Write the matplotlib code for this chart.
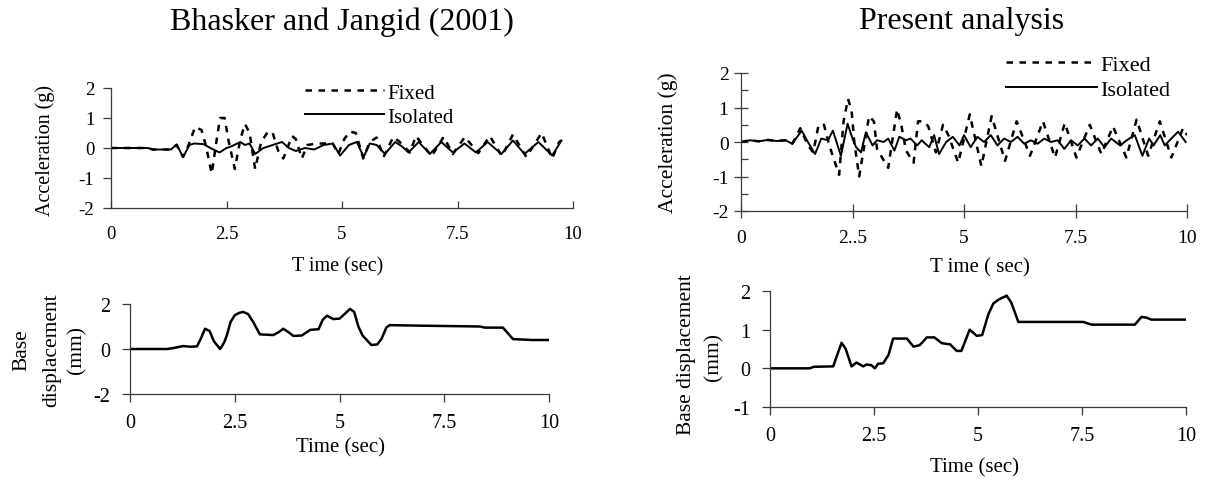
import matplotlib
matplotlib.use("Agg")
import matplotlib.pyplot as plt
from matplotlib.ticker import MultipleLocator

plt.rcParams['font.family'] = ['Liberation Serif', 'DejaVu Serif']

# ---- data: Bhasker and Jangid (2001), top acceleration response ----
bj_fixed_t = [0, 0.8, 0.9, 1.3, 1.42, 1.56, 1.68, 1.82, 1.96, 2.05, 2.18, 2.28, 2.36, 2.46,
              2.55, 2.68, 2.8, 2.9, 3.0, 3.12, 3.25, 3.4, 3.5, 3.62, 3.73, 3.92, 4.0, 4.13,
              4.25, 4.45, 4.8, 4.92, 5.05, 5.17, 5.3, 5.46, 5.6, 5.75, 5.9, 6.11, 6.25, 6.47,
              6.6, 6.75, 6.94, 7.2, 7.4, 7.66, 7.95, 8.2, 8.46, 8.7, 8.99, 9.32, 9.55, 9.7, 9.75]
bj_fixed_a = [0, 0, -0.05, -0.05, 0.1, -0.3, 0.1, 0.7, 0.6, 0.1, -0.85, 0.2, 1.0, 1.0,
              0.2, -0.7, 0.3, 0.8, 0.5, -0.7, 0.2, 0.55, 0.5, -0.1, -0.35, 0.4, 0.3, -0.35,
              0.1, 0.15, 0.15, -0.2, 0.3, 0.55, 0.5, -0.35, 0.2, 0.35, -0.3, 0.37, 0.2, -0.15,
              0.4, 0.1, -0.27, 0.37, -0.2, 0.37, -0.17, 0.4, -0.27, 0.45, -0.3, 0.5, -0.35, 0.2, 0.25]

bj_iso_t = [0, 0.8, 0.9, 1.3, 1.42, 1.56, 1.7, 1.8, 2.0, 2.15, 2.35, 2.5, 2.6, 2.8, 2.9, 3.0,
            3.12, 3.3, 3.5, 3.7, 3.85, 4.0, 4.2, 4.4, 4.6, 4.8, 4.96, 5.15, 5.32, 5.47, 5.6,
            5.75, 5.93, 6.15, 6.3, 6.44, 6.66, 6.9, 7.15, 7.4, 7.65, 7.9, 8.15, 8.45, 8.7,
            8.95, 9.25, 9.55, 9.75]
bj_iso_a = [0, 0, -0.05, -0.05, 0.12, -0.3, 0.1, 0.15, 0.13, 0.0, -0.15, 0.0, 0.05, 0.2, 0.1, 0.15,
            -0.2, 0.0, 0.1, 0.2, 0.0, -0.1, 0.0, -0.05, 0.1, 0.15, -0.25, 0.1, 0.2, -0.3, 0.15,
            0.1, -0.2, 0.2, 0.05, -0.15, 0.2, -0.2, 0.2, -0.15, 0.15, -0.15, 0.2, -0.2, 0.25,
            -0.2, 0.2, -0.25, 0.25]

# ---- data: present analysis, top acceleration response ----
pa_fixed_t = [0, 0.2, 0.4, 0.6, 0.8, 1.0, 1.15, 1.33, 1.5, 1.62, 1.74, 1.86, 1.98, 2.2, 2.3,
              2.4, 2.48, 2.54, 2.65, 2.72, 2.87, 2.98, 3.05, 3.3, 3.5, 3.6, 3.7, 3.87, 3.97,
              4.1, 4.2, 4.37, 4.53, 4.65, 4.87, 5.13, 5.39, 5.62, 5.92, 6.18, 6.48, 6.77,
              7.04, 7.26, 7.52, 7.82, 8.08, 8.34, 8.64, 8.87, 9.13, 9.39, 9.65, 9.91, 10.0]
pa_fixed_a = [0, 0.05, 0.02, 0.06, 0.03, 0.05, -0.05, 0.4, -0.1, -0.3, 0.5, 0.5, -0.1, -0.95, 0.6,
              1.25, 0.9, 0.0, -1.0, -0.45, 0.75, 0.6, -0.2, -0.75, 0.95, 0.45, -0.25, -0.6, 0.6,
              0.6, 0.45, -0.3, 0.5, 0.2, -0.6, 0.8, -0.7, 0.75, -0.55, 0.6, -0.4, 0.6,
              -0.45, 0.55, -0.45, 0.5, -0.35, 0.45, -0.45, 0.65, -0.4, 0.6, -0.45, 0.4, 0.2]

pa_iso_t = [0, 0.2, 0.4, 0.6, 0.8, 1.0, 1.15, 1.36, 1.5, 1.66, 1.8, 1.95, 2.06, 2.24, 2.39, 2.5,
            2.58, 2.69, 2.8, 2.95, 3.05, 3.2, 3.3, 3.44, 3.55, 3.7, 3.8, 3.95, 4.05, 4.22, 4.33,
            4.44, 4.6, 4.75, 4.9, 5.0, 5.15, 5.3, 5.45, 5.6, 5.75, 5.9, 6.05, 6.2, 6.35, 6.5,
            6.65, 6.8, 6.95, 7.1, 7.25, 7.4, 7.55, 7.7, 7.85, 8.0, 8.15, 8.3, 8.5, 8.65, 8.83,
            9.0, 9.15, 9.25, 9.4, 9.5, 9.65, 9.8, 9.97]
pa_iso_a = [0, 0.05, 0.02, 0.06, 0.03, 0.05, -0.05, 0.33, 0.0, -0.35, 0.1, 0.05, 0.33, -0.4, 0.53, 0.1,
            -0.15, -0.3, 0.28, -0.1, 0.05, 0.0, 0.1, -0.25, 0.15, 0.05, 0.1, -0.1, 0.05, -0.15, 0.2,
            -0.35, 0.0, 0.15, -0.1, 0.2, -0.15, 0.15, 0.0, 0.2, -0.1, 0.1, 0.0, 0.15, -0.05, 0.05,
            -0.05, 0.1, 0.0, 0.05, -0.2, 0.05, -0.1, 0.1, -0.1, 0.1, -0.15, 0.1, -0.1, 0.05, 0.2,
            -0.4, 0.1, -0.1, 0.2, -0.1, 0.1, 0.3, 0.0]

# ---- data: base displacement (mm) ----
bj_disp_t = [0, 0.875, 1.0, 1.27, 1.45, 1.6, 1.7, 1.79, 1.9, 2.0, 2.15, 2.25, 2.31, 2.4, 2.5,
             2.6, 2.7, 2.82, 2.94, 3.1, 3.42, 3.55, 3.66, 3.78, 3.9, 4.1, 4.3, 4.5, 4.6, 4.7,
             4.85, 5.0, 5.12, 5.25, 5.35, 5.45, 5.55, 5.76, 5.9, 6.0, 6.12, 6.2, 6.84, 8.35,
             8.47, 8.9, 9.0, 9.14, 9.6, 9.97]
bj_disp_d = [0, 0, 0.03, 0.13, 0.1, 0.12, 0.5, 0.9, 0.8, 0.35, 0.0, 0.3, 0.6, 1.2, 1.5,
             1.6, 1.65, 1.55, 1.2, 0.65, 0.62, 0.75, 0.9, 0.75, 0.58, 0.6, 0.85, 0.88, 1.3, 1.48,
             1.33, 1.35, 1.55, 1.78, 1.65, 1.0, 0.6, 0.18, 0.2, 0.44, 0.96, 1.06, 1.04, 1.0,
             0.95, 0.95, 0.74, 0.44, 0.4, 0.4]

pa_disp_t = [0, 0.96, 1.05, 1.52, 1.6, 1.72, 1.82, 1.96, 2.08, 2.24, 2.32, 2.44, 2.52, 2.6, 2.72,
             2.85, 2.96, 3.29, 3.45, 3.6, 3.77, 3.95, 4.13, 4.33, 4.49, 4.6, 4.8, 4.97, 5.1,
             5.25, 5.37, 5.5, 5.69, 5.8, 5.97, 7.53, 7.73, 8.77, 8.93, 9.05, 9.17, 9.97]
pa_disp_d = [0, 0, 0.04, 0.05, 0.3, 0.66, 0.5, 0.05, 0.15, 0.05, 0.1, 0.08, 0.0, 0.12, 0.13,
             0.35, 0.77, 0.77, 0.56, 0.6, 0.8, 0.8, 0.65, 0.62, 0.45, 0.45, 1.0, 0.84, 0.86,
             1.4, 1.68, 1.78, 1.88, 1.7, 1.2, 1.2, 1.13, 1.13, 1.33, 1.31, 1.26, 1.26]

time_ticks = [0, 2.5, 5, 7.5, 10]
time_labels = ['0', '2.5', '5', '7.5', '10']
time_labels_top_right = ['0', '2..5', '5', '7.5', '10']

W, H = 1205, 481
fig = plt.figure(figsize=(W / 100, H / 100), dpi=100)
SPINE = '#3a3a3a'


def box(x0, y0, x1, y1):
    return [x0 / W, 1 - y1 / H, (x1 - x0) / W, (y1 - y0) / H]


def fx(px):
    return px / W


def fy(py):
    return 1 - py / H


def style(ax, ylim):
    ax.set_xlim(0, 10)
    ax.set_ylim(*ylim)
    for s in ('top', 'right'):
        ax.spines[s].set_visible(False)
    for s in ('left', 'bottom'):
        ax.spines[s].set_color(SPINE)
        ax.spines[s].set_linewidth(0.9)
    ax.tick_params(which='both', color=SPINE, width=0.9, labelcolor='black')
    ax.patch.set_alpha(0)


FIXED_LS = (0, (2.6, 2.6))

# top-left: acceleration, Bhasker and Jangid
ax1 = fig.add_axes(box(111, 89, 573, 209))
style(ax1, (-2, 2))
ax1.plot(bj_fixed_t, bj_fixed_a, color='black', lw=1.8, ls=FIXED_LS, label='Fixed')
ax1.plot(bj_iso_t, bj_iso_a, color='black', lw=1.4, label='Isolated')
ax1.set_xticks(time_ticks, time_labels)
ax1.set_yticks([-2, -1, 0, 1, 2], ['-2', '-1', '0', '1', '2'])
ax1.tick_params(axis='x', direction='in', length=5, labelsize=13.5, pad=12)
ax1.tick_params(axis='y', direction='out', length=6, labelsize=13.5, pad=6)
ax1.legend(loc='upper left', bbox_to_anchor=(fx(305), fy(84)), bbox_transform=fig.transFigure,
           frameon=False, fontsize=15, handlelength=3.8, handletextpad=0.15,
           labelspacing=0.22, borderpad=0, borderaxespad=0)

# top-right: acceleration, present analysis
ax2 = fig.add_axes(box(741, 74, 1187, 212))
style(ax2, (-2, 2))
ax2.plot(pa_fixed_t, pa_fixed_a, color='black', lw=1.8, ls=FIXED_LS, label='Fixed')
ax2.plot(pa_iso_t, pa_iso_a, color='black', lw=1.4, label='Isolated')
ax2.set_xticks(time_ticks, time_labels_top_right)
ax2.set_yticks([-2, -1, 0, 1, 2], ['-2', '-1', '0', '1', '2'])
ax2.yaxis.set_minor_locator(MultipleLocator(0.5))
ax2.tick_params(axis='x', direction='inout', length=10, labelsize=14, pad=8)
ax2.tick_params(axis='y', which='major', direction='inout', length=10, labelsize=14, pad=4)
ax2.tick_params(axis='y', which='minor', direction='in', length=5)
ax2.legend(loc='upper left', bbox_to_anchor=(fx(1006), fy(55)), bbox_transform=fig.transFigure,
           frameon=False, fontsize=16, handlelength=4.1, handletextpad=0.15,
           labelspacing=0.22, borderpad=0, borderaxespad=0)

# bottom-left: base displacement, Bhasker and Jangid
ax3 = fig.add_axes(box(130, 305, 549, 395))
style(ax3, (-2, 2))
ax3.plot(bj_disp_t, bj_disp_d, color='black', lw=1.8)
ax3.set_xticks(time_ticks, time_labels)
ax3.set_yticks([-2, 0, 2], ['-2', '0', '2'])
ax3.tick_params(axis='both', direction='out', length=6, labelsize=14.5, pad=8)

# bottom-right: base displacement, present analysis
ax4 = fig.add_axes(box(770, 292, 1186, 408))
style(ax4, (-1, 2))
ax4.plot(pa_disp_t, pa_disp_d, color='black', lw=1.8)
ax4.set_xticks(time_ticks, time_labels)
ax4.set_yticks([-1, 0, 1, 2], ['-1', '0', '1', '2'])
ax4.tick_params(axis='both', direction='out', length=6, labelsize=14.5, pad=8)

# titles and axis labels
fig.text(fx(342), fy(22), 'Bhasker and Jangid (2001)', ha='center', va='center', fontsize=23)
fig.text(fx(962), fy(22), 'Present analysis', ha='center', va='center', fontsize=23)

fig.text(fx(45), fy(150), 'Acceleration (g)', rotation=90, ha='center', va='center', fontsize=14.5)
fig.text(fx(668), fy(143), 'Acceleration (g)', rotation=90, ha='center', va='center', fontsize=15.5)
fig.text(fx(338), fy(267), 'T ime (sec)', ha='center', va='center', fontsize=14.5)
fig.text(fx(980), fy(268), 'T ime ( sec)', ha='center', va='center', fontsize=15)

fig.text(fx(22), fy(350), 'Base', rotation=90, ha='center', va='center', fontsize=15.5)
fig.text(fx(52), fy(350), 'displacement', rotation=90, ha='center', va='center', fontsize=15.5)
fig.text(fx(77), fy(350), '(mm)', rotation=90, ha='center', va='center', fontsize=15.5)
fig.text(fx(341), fy(448), 'Time (sec)', ha='center', va='center', fontsize=15)

fig.text(fx(686), fy(355), 'Base displacement', rotation=90, ha='center', va='center', fontsize=15.5)
fig.text(fx(714), fy(357), '(mm)', rotation=90, ha='center', va='center', fontsize=15.5)
fig.text(fx(975), fy(468), 'Time (sec)', ha='center', va='center', fontsize=15)

fig.savefig('out.png', dpi=100, facecolor='white')
